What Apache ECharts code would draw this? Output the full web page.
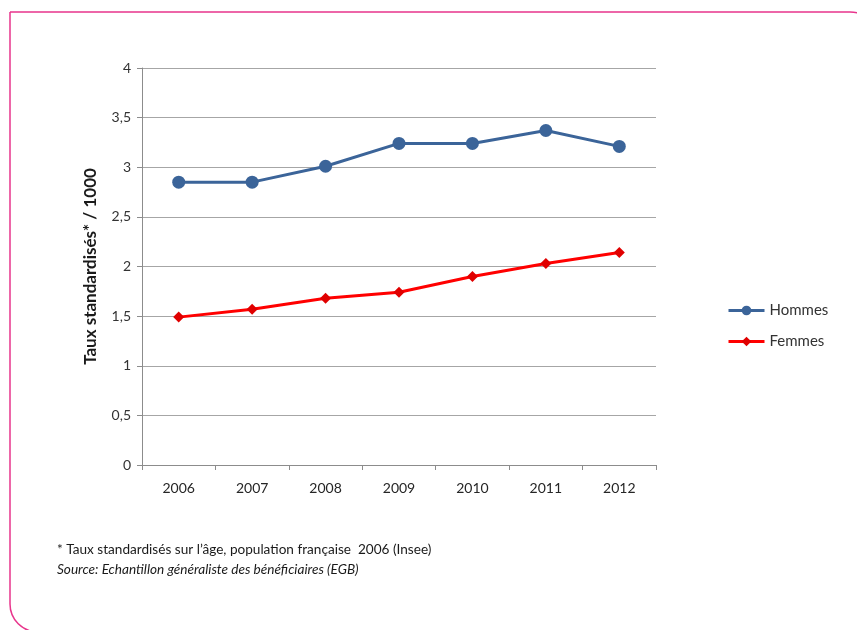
<!DOCTYPE html>
<html>
<head>
	<meta charset="utf-8">
	<title>Taux standardisés</title>
	<style>
		* { margin: 0; padding: 0; }
		body { background: #fff; }
		#main { width: 857px; height: 630px; }
	</style>
</head>
<body>
	<div id="main"></div>
	<script src="https://cdn.jsdelivr.net/npm/echarts@6/dist/echarts.min.js"></script>
	<script>
		// données
		var annees = ['2006', '2007', '2008', '2009', '2010', '2011', '2012'];
		var hommes = [2.85, 2.85, 3.01, 3.24, 3.24, 3.37, 3.21];
		var femmes = [1.49, 1.57, 1.68, 1.74, 1.90, 2.03, 2.14];
		var noteLignes = [
			'* Taux standardisés sur l\u2019âge, population française  2006 (Insee)',
			'Source: Echantillon généraliste des bénéficiaires (EGB)'
		];

		var police = 'Lato, "Open Sans", sans-serif';
		var myChart = echarts.init(document.getElementById('main'));

		var option = {
			backgroundColor: '#fff',
			animation: false,
			textStyle: { fontFamily: police },
			grid: { left: 142, right: 201, top: 68, bottom: 165 },
			legend: {
				orient: 'vertical',
				left: 722,
				top: 298,
				itemWidth: 36,
				itemHeight: 12,
				itemGap: 16,
				lineStyle: { width: 3 },
				textStyle: { fontSize: 15, color: '#333', fontFamily: police },
				data: ['Hommes', 'Femmes']
			},
			xAxis: {
				type: 'category',
				data: annees,
				boundaryGap: true,
				axisLine: { lineStyle: { color: '#8c8c8c' } },
				axisTick: { show: true, length: 5, lineStyle: { color: '#8c8c8c' } },
				axisLabel: { color: '#262626', fontSize: 14, margin: 16 }
			},
			yAxis: {
				type: 'value',
				min: 0,
				max: 4,
				interval: 0.5,
				name: 'Taux standardisés* / 1000',
				nameLocation: 'middle',
				nameGap: 43,
				nameTextStyle: { fontSize: 17, fontWeight: 'bold', color: '#1a1a1a' },
				axisLine: { show: true, lineStyle: { color: '#8c8c8c' } },
				axisTick: { show: true, length: 5, lineStyle: { color: '#8c8c8c' } },
				splitLine: { lineStyle: { color: '#a6a6a6', width: 1 } },
				axisLabel: {
					color: '#333',
					fontSize: 14,
					margin: 11,
					formatter: function (v) { return String(v).replace('.', ','); }
				}
			},
			series: [
				{
					name: 'Hommes',
					type: 'line',
					data: hommes,
					symbol: 'circle',
					symbolSize: 13,
					color: '#3b6499',
					lineStyle: { width: 3, color: '#3b6499' },
					itemStyle: { color: '#3b6499' }
				},
				{
					name: 'Femmes',
					type: 'line',
					data: femmes,
					symbol: 'diamond',
					symbolSize: 11,
					color: '#ff0000',
					lineStyle: { width: 3, color: '#ff0000' },
					itemStyle: { color: '#e00000' }
				}
			],
			graphic: [
				{
					// cadre rose
					type: 'rect',
					silent: true,
					shape: { x: 10, y: 12, width: 870, height: 620, r: [0, 30, 0, 28] },
					style: { fill: 'none', stroke: '#e8358c', lineWidth: 1.5 }
				},
				{
					type: 'text',
					left: 57,
					top: 543,
					style: { text: noteLignes[0], font: '13.6px ' + police, fill: '#1a1a1a' }
				},
				{
					type: 'text',
					left: 57,
					top: 563,
					style: { text: noteLignes[1], font: 'italic 13.6px ' + police, fill: '#1a1a1a' }
				}
			]
		};
		myChart.setOption(option);
	</script>
</body>
</html>
